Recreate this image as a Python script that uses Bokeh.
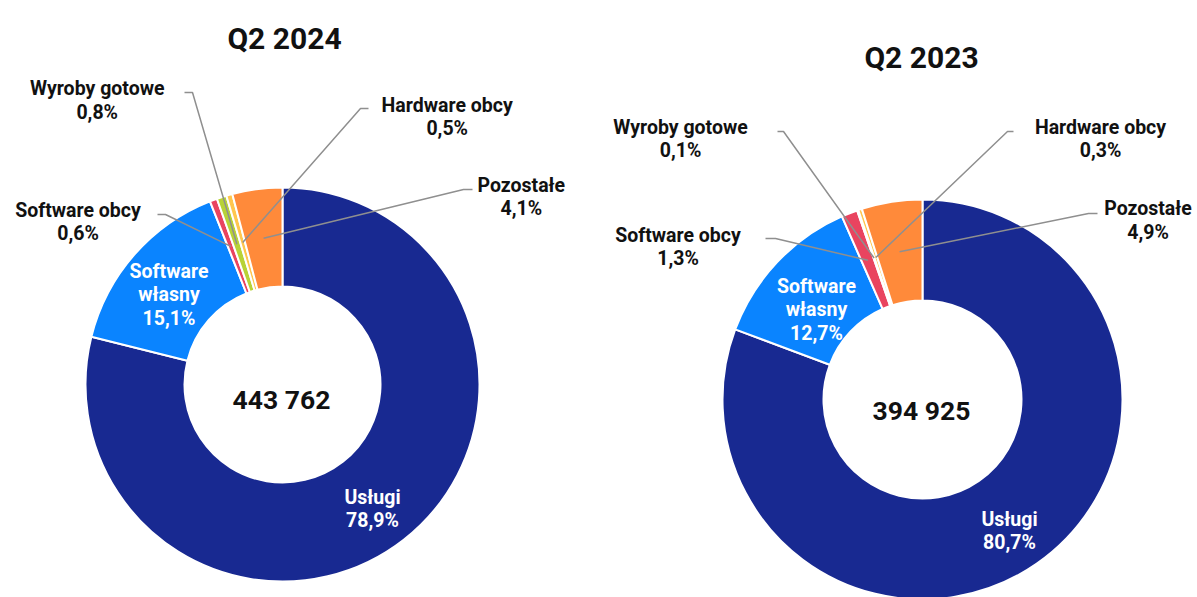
import math
from bokeh.plotting import figure
from bokeh.models import Range1d, ColumnDataSource
from bokeh.embed import file_html
from bokeh.resources import INLINE
from bokeh.core.properties import value

# ---- data ----
categories = ["Usługi", "Software własny", "Software obcy", "Wyroby gotowe", "Hardware obcy", "Pozostałe"]
share_q2_2024 = [78.9, 15.1, 0.6, 0.8, 0.5, 4.1]
share_q2_2023 = [80.7, 12.7, 1.3, 0.1, 0.3, 4.9]
titles = ["Q2 2024", "Q2 2023"]
totals = ["443 762", "394 925"]

# ---- style ----
colors = ["#182991", "#0A84FF", "#E9445F", "#B8D236", "#FFC64F", "#FF8A3A"]
FONT = value("Roboto")
LEADER = "#8F8F8F"
LABEL_SIZE = "19.5px"

W, H = 1197, 597
def sy(y):  # screen y -> data y
    return 597 - y

p = figure(width=W, height=H, output_backend="svg", toolbar_location=None,
           x_range=Range1d(0, W), y_range=Range1d(597 - H, 597),
           x_axis_location=None, y_axis_location=None, min_border=0)
p.grid.visible = False
p.outline_line_color = None
p.background_fill_color = "white"
p.border_fill_color = "white"

layouts = [
    dict(shares=share_q2_2024, cx=282, cy=384, R=197, r=98,
         title=(284, 38), total=(281, 399),
         inner={0: (372, 497), 1: (168.5, 271)},
         outer={2: (77.5, 210, [(157, 214), (165, 214)]),
                3: (96.7, 88.3, [(184, 92), (192, 92)]),
                4: (446.7, 105, [(368, 108), (360, 108)]),
                5: (520.8, 185, [(472, 189), (463, 189)])}),
    dict(shares=share_q2_2023, cx=922, cy=399, R=200, r=99,
         title=(921, 57), total=(921, 410),
         inner={0: (1009, 518.5), 1: (816, 286)},
         outer={2: (677.5, 235, [(765, 238), (775, 238)]),
                3: (680, 126.7, [(777, 131), (783, 131)]),
                4: (1100, 126.7, [(1013, 131), (1007, 131)]),
                5: (1147.5, 208.3, [(1097, 213), (1088, 213)])}),
]

LH = 23.3
def fmt(v):
    return f"{v:.1f}".replace(".", ",") + "%"

for k, L in enumerate(layouts):
    shares = L["shares"]
    tot = sum(shares)
    cum = [0.0]
    for s in shares:
        cum.append(cum[-1] + s / tot)
    start = [math.pi / 2 - 2 * math.pi * c for c in cum[:-1]]
    end = [math.pi / 2 - 2 * math.pi * c for c in cum[1:]]
    mid = [math.pi / 2 - 2 * math.pi * (a + b) / 2 for a, b in zip(cum[:-1], cum[1:])]
    src = ColumnDataSource(dict(start=start, end=end, color=colors, cat=categories))
    p.annular_wedge(x=L["cx"], y=sy(L["cy"]), inner_radius=L["r"], outer_radius=L["R"],
                    start_angle="start", end_angle="end", direction="clock",
                    fill_color="color", line_color="white", line_width=2, source=src)

    # leader lines
    xs, ys = [], []
    rm = (L["R"] + L["r"]) / 2
    for i, (lx, ly, pts) in L["outer"].items():
        ex = L["cx"] + rm * math.cos(mid[i])
        ey = sy(L["cy"]) + rm * math.sin(mid[i])
        xs.append([pt[0] for pt in pts] + [ex])
        ys.append([sy(pt[1]) for pt in pts] + [ey])
    p.multi_line(xs=xs, ys=ys, line_color=LEADER, line_width=1.5)

    # outer labels
    for i, (lx, ly, pts) in L["outer"].items():
        for j, t in enumerate([categories[i], fmt(shares[i])]):
            p.text(x=[lx], y=[sy(ly + j * LH)], text=[t], text_font=FONT, text_font_style="bold",
                   text_font_size=LABEL_SIZE, text_color="#111111", text_align="center",
                   text_baseline="alphabetic")
    # inner labels (white)
    for i, (lx, ly) in L["inner"].items():
        parts = categories[i].split(" ") + [fmt(shares[i])]
        for j, t in enumerate(parts):
            p.text(x=[lx], y=[sy(ly + j * LH)], text=[t], text_font=FONT, text_font_style="bold",
                   text_font_size=LABEL_SIZE, text_color="white", text_align="center",
                   text_baseline="alphabetic")
    # title and total
    p.text(x=[L["title"][0]], y=[sy(L["title"][1])], text=[titles[k]], text_font=FONT,
           text_font_style="bold", text_font_size="30px", text_color="#111111",
           text_align="center", text_baseline="alphabetic")
    p.text(x=[L["total"][0]], y=[sy(L["total"][1])], text=[totals[k]], text_font=FONT,
           text_font_style="bold", text_font_size="26.5px", text_color="#111111",
           text_align="center", text_baseline="alphabetic")

open("out.html", "w").write(file_html(p, INLINE))
